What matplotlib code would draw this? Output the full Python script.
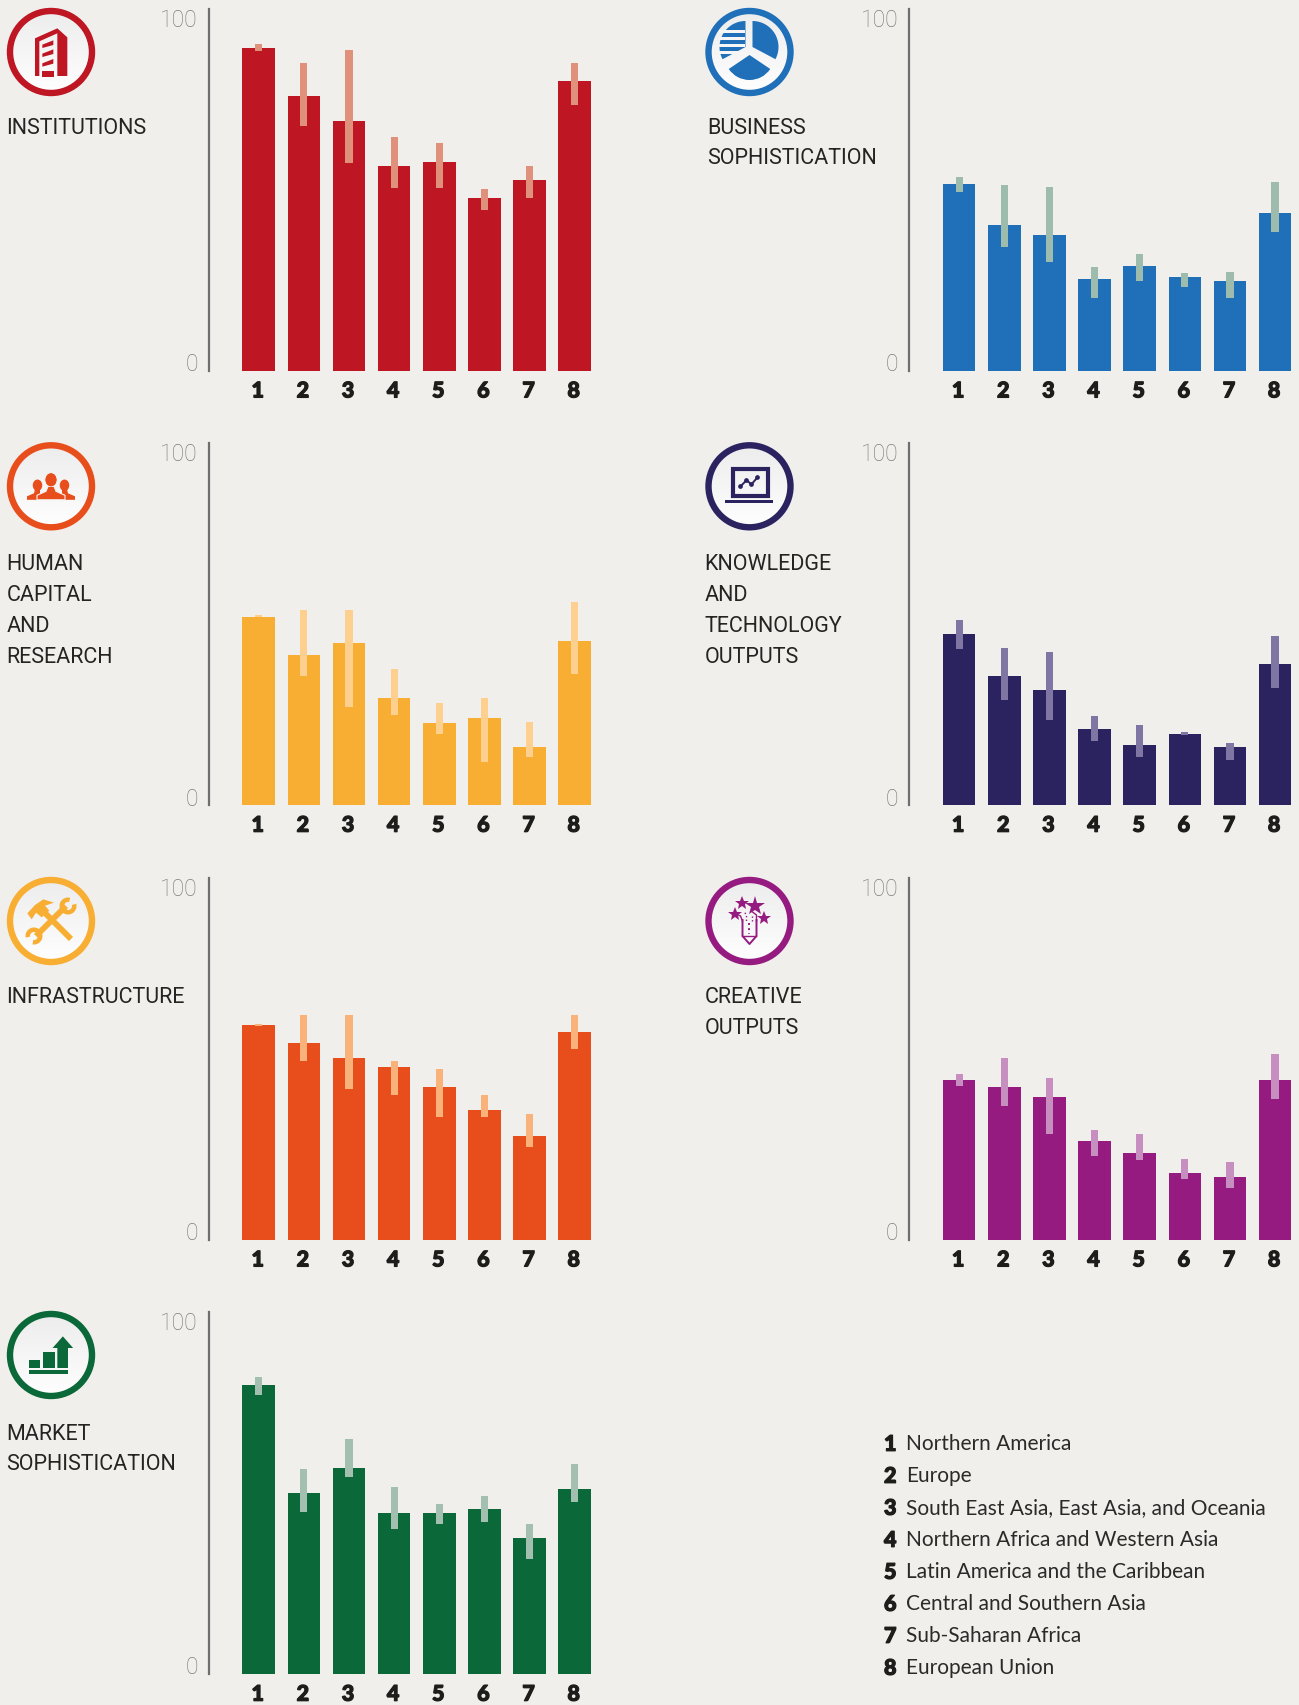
import numpy as np
import matplotlib
matplotlib.use("Agg")
import matplotlib.pyplot as plt
import matplotlib.patheffects as pe
from matplotlib.colors import LinearSegmentedColormap
from matplotlib.patches import Circle, Ellipse, Polygon, Rectangle, Wedge
from matplotlib.transforms import ScaledTranslation

regions = ["Northern America", "Europe", "South East Asia, East Asia, and Oceania",
           "Northern Africa and Western Asia", "Latin America and the Caribbean",
           "Central and Southern Asia", "Sub-Saharan Africa", "European Union"]
groups = [1, 2, 3, 4, 5, 6, 7, 8]

institutions = [89.1, 75.9, 69.0, 56.6, 57.6, 47.8, 52.8, 79.9]
institutions_hi = [90.2, 85.1, 88.5, 64.6, 62.9, 50.3, 56.5, 85.1]
institutions_lo = [88.2, 67.5, 57.4, 50.5, 50.6, 44.5, 47.8, 73.5]

business = [51.5, 40.2, 37.6, 25.4, 29.0, 25.9, 24.9, 43.5]
business_hi = [53.5, 51.4, 50.8, 28.7, 32.2, 26.9, 27.4, 52.2]
business_lo = [49.4, 34.2, 29.9, 20.2, 24.9, 23.0, 20.2, 38.3]

human = [52.0, 41.3, 44.7, 29.5, 22.6, 24.0, 15.9, 45.3]
human_hi = [52.4, 54.0, 54.0, 37.6, 28.2, 29.6, 22.8, 56.0]
human_lo = [51.9, 35.6, 27.0, 24.8, 19.5, 11.9, 13.2, 36.2]

knowledge = [47.1, 35.5, 31.7, 20.9, 16.6, 19.7, 15.9, 39.0]
knowledge_hi = [51.2, 43.3, 42.2, 24.7, 22.1, 20.1, 17.2, 46.7]
knowledge_lo = [43.0, 28.9, 23.5, 17.7, 13.3, 19.3, 12.3, 32.4]

infrastructure = [59.2, 54.2, 50.2, 47.8, 42.3, 35.7, 28.7, 57.4]
infrastructure_hi = [59.5, 62.0, 62.0, 49.4, 47.2, 40.0, 34.7, 62.2]
infrastructure_lo = [59.1, 49.4, 41.5, 40.0, 33.8, 33.8, 25.7, 52.8]

creative = [44.1, 42.3, 39.3, 27.2, 24.0, 18.5, 17.3, 44.0]
creative_hi = [45.9, 50.2, 44.7, 30.2, 29.3, 22.4, 21.4, 51.4]
creative_lo = [42.5, 36.9, 29.3, 23.1, 22.0, 16.8, 14.3, 38.9]

market = [79.7, 50.0, 56.8, 44.4, 44.4, 45.6, 37.7, 51.0]
market_hi = [82.1, 56.6, 65.0, 51.6, 47.0, 49.2, 41.3, 57.9]
market_lo = [77.2, 44.7, 54.3, 40.1, 41.5, 42.0, 31.7, 47.4]

W, H = 1299, 1705
BG = "#f1efec"
TXT = "#252423"
FONT = "Lato"
TITLE_FONT = "Roboto"
heavy = [pe.withStroke(linewidth=0.9, foreground="#1d1d1b")]

fig = plt.figure(figsize=(W / 100, H / 100), dpi=100, facecolor=BG)
page = fig.add_axes([0, 0, 1, 1])
page.set_xlim(0, W)
page.set_ylim(H, 0)
page.axis("off")
fade = LinearSegmentedColormap.from_list("fade", ["#ececed", "#ffffff"])


def add_chart(x0, y0, vals, hi, lo, color, light):
    # x0 = axis line pixel, y0 = pixel of value 0
    ax = fig.add_axes([x0 / W, 1 - y0 / H, 388 / W, 362 / H], facecolor="none")
    xs = np.array(groups)
    ax.set_xlim(1 - 49.7 / 45.1, 1 + 338 / 45.1)
    ax.set_ylim(0, 100)
    ax.bar(xs, vals, width=0.72, color=color)
    ax.bar(xs, np.array(hi) - np.array(lo), bottom=lo, width=0.16, color=light)
    for s in ["top", "right", "bottom"]:
        ax.spines[s].set_visible(False)
    ax.spines["left"].set_color("#6f6f6e")
    ax.spines["left"].set_linewidth(1.6)
    ax.set_yticks([])
    ax.set_xticks(xs)
    ax.set_xticklabels(groups, fontfamily=FONT, fontweight="black", fontsize=15.5, color="#1d1d1b")
    ax.tick_params(axis="x", length=0, pad=7)
    shift = ScaledTranslation(-1 / 100, 0, fig.dpi_scale_trans)
    for lab in ax.get_xticklabels():
        lab.set_transform(lab.get_transform() + shift)
        lab.set_path_effects(heavy)
    for v, off, va in [(100, 0, "top"), (0, -5.5, "bottom")]:
        ax.annotate(str(v), (0, v), xycoords=ax.get_yaxis_transform(), xytext=(-11, off),
                    textcoords="offset pixels", ha="right", va=va, fontfamily="Roboto",
                    fontweight="light", fontsize=16.5, color="#7d7d7d")
    return ax


def ring(cx, cy, color):
    grad = np.linspace(0, 1, 64).reshape(-1, 1)
    im = page.imshow(grad, extent=(cx - 44, cx + 44, cy + 44, cy - 44), cmap=fade,
                     aspect="auto", zorder=1)
    im.set_clip_path(Circle((cx, cy), 41, transform=page.transData))
    page.add_patch(Circle((cx, cy), 41, fill=False, ec=color, lw=4.6, zorder=2))
    page.set_xlim(0, W)
    page.set_ylim(H, 0)


def poly(cx, cy, pts, color, cen=(153, 156), sx=3.0, sy=3.0, ec="none", z=3):
    p = [(cx + (a - cen[0]) / sx, cy + (b - cen[1]) / sy) for a, b in pts]
    page.add_patch(Polygon(p, closed=True, fc=color, ec=ec, lw=0.8, zorder=z))


def icon_institutions(cx, cy, c):
    poly(cx, cy, [(105, 115), (172, 85), (202, 112), (202, 228), (172, 228), (172, 100), (118, 124), (118, 228), (105, 228)], c)
    for top in [128, 155, 184]:
        poly(cx, cy, [(127, top + 6), (160, top - 7), (160, top + 7), (127, top + 16)], c)
    poly(cx, cy, [(126, 213), (162, 213), (162, 231), (126, 231)], c)


def icon_business(cx, cy, c):
    # y axis runs down here, so wedge angles go clockwise on screen
    page.add_patch(Wedge((cx + 3, cy - 5), 26, -90, 28, fc=c, ec="none", zorder=3))
    page.add_patch(Wedge((cx, cy + 3), 25, 34, 146, fc=c, ec="none", zorder=3))
    page.add_patch(Wedge((cx - 4, cy - 5), 26, 152, 270, fc=c, ec="none", zorder=3))
    for y in [-22.5, -15.5, -8, -1]:
        page.add_patch(Rectangle((cx - 30, cy + y), 26, 3, fc="#f6f6f7", ec="none", zorder=4))


def icon_human(cx, cy, c):
    for s in [-1, 1]:
        page.add_patch(Ellipse((cx + s * 13.5, cy - 1), 9.5, 11.5, fc=c, ec="none", zorder=3))
        poly(cx, cy, [(s * 24, 13.5), (s * 24, 10), (s * 17, 7), (s * 16, 3), (s * 11, 3), (s * 11, 13.5)],
             c, cen=(0, 0), sx=1, sy=1)
    page.add_patch(Ellipse((cx, cy - 6.5), 12, 14, fc=c, ec="#f4f4f5", lw=0.8, zorder=4))
    poly(cx, cy, [(-14, 13.5), (-14, 9), (-5, 5), (-3, 0), (3, 0), (5, 5), (14, 9), (14, 13.5)],
         c, cen=(0, 0), sx=1, sy=1, ec="#f4f4f5", z=4)
    page.add_patch(Ellipse((cx, cy - 6.5), 11, 13, fc=c, ec="none", zorder=5))


def icon_knowledge(cx, cy, c):
    page.add_patch(Rectangle((cx - 16.5, cy - 17.5), 35, 27, fc="none", ec=c, lw=3, zorder=3))
    px = np.array([-9, -3, 2, 8]) + cx
    py = np.array([0, -6, -2, -9]) + cy
    page.plot(px, py, color=c, lw=1.4, marker="o", ms=2.4, zorder=3)
    page.add_patch(Rectangle((cx - 24, cy + 14), 48, 3, fc=c, ec="none", zorder=3))


def icon_infrastructure(cx, cy, c):
    # hammer
    page.plot([cx - 12, cx + 20], [cy - 14, cy + 18], color=c, lw=4.2, solid_capstyle="butt", zorder=3)
    poly(cx, cy, [(82, 160), (105, 135), (130, 118), (162, 128), (135, 137), (148, 152), (125, 172), (108, 158), (95, 178)],
         c, cen=(153, 183))
    # wrench
    page.plot([cx - 15, cx + 15], [cy + 15, cy - 15], color=c, lw=4.2, solid_capstyle="butt", zorder=3)
    page.add_patch(Wedge((cx + 17, cy - 15), 8.5, -15, 285, width=4.5, fc=c, ec="none", zorder=3))
    page.add_patch(Wedge((cx - 17, cy + 15), 8.5, 170, 460, width=4.5, fc=c, ec="none", zorder=3))


def icon_creative(cx, cy, c):
    for dx, dy, ms in [(-7, -18, 10), (6, -15, 15), (-14, -7, 10), (15, -3, 10)]:
        page.plot([cx + dx], [cy + dy], marker="*", color=c, ms=ms, mew=0, zorder=3)
    page.plot([cx - 7, cx - 7, cx, cx + 7, cx + 7], [cy - 1, cy + 15, cy + 23, cy + 15, cy - 1], color=c, lw=1.4, zorder=3)
    page.plot([cx - 7, cx + 7], [cy + 15, cy + 15], color=c, lw=1, zorder=3)
    page.plot([cx, cx], [cy + 2, cy + 13], color=c, lw=1.4, ls=":", zorder=3)
    page.plot([cx - 7, cx - 9, cx - 13], [cy, cy - 5, cy - 7], color=c, lw=1, zorder=3)
    page.plot([cx + 7, cx + 7, cx + 3], [cy, cy - 6, cy - 9], color=c, lw=1, zorder=3)
    page.plot([cx - 3, cx - 3, cx - 6], [cy, cy - 6, cy - 10], color=c, lw=1, ls=":", zorder=3)
    page.plot([cx + 3, cx + 3], [cy, cy - 6], color=c, lw=1, ls=":", zorder=3)


def icon_market(cx, cy, c):
    for a, b, t in [(73, 102, 225), (109, 138, 201)]:
        poly(cx, cy, [(a, t), (b, t), (b, 250), (a, 250)], c, cen=(129, 211), sx=2.53)
    poly(cx, cy, [(145, 250), (145, 190), (133, 190), (159, 155), (185, 190), (172, 190), (172, 250)], c, cen=(129, 211), sx=2.53)
    poly(cx, cy, [(73, 255), (172, 255), (172, 269), (73, 269)], c, cen=(129, 211), sx=2.53)


panels = [
    (209, 370.7, institutions, institutions_hi, institutions_lo, "#be1622", "#e0917c", "#be1622",
     51, 52, icon_institutions, 6.5, 126, ["INSTITUTIONS"]),
    (909.4, 370.7, business, business_hi, business_lo, "#1f70b8", "#9dbcae", "#1f70b8",
     749.5, 52, icon_business, 707, 126, ["BUSINESS", "SOPHISTICATION"]),
    (209, 805, human, human_hi, human_lo, "#f8ae33", "#fdd08f", "#e84e1b",
     51, 486.3, icon_human, 6.5, 563, ["HUMAN", "CAPITAL", "AND", "RESEARCH"]),
    (909.4, 805, knowledge, knowledge_hi, knowledge_lo, "#2a2360", "#7f76a3", "#2a2360",
     749.5, 486.3, icon_knowledge, 704.5, 563, ["KNOWLEDGE", "AND", "TECHNOLOGY", "OUTPUTS"]),
    (209, 1239.7, infrastructure, infrastructure_hi, infrastructure_lo, "#e84e1b", "#f9b27a", "#f8ae33",
     51, 921, icon_infrastructure, 6.5, 995.7, ["INFRASTRUCTURE"]),
    (909.4, 1239.7, creative, creative_hi, creative_lo, "#951b81", "#c78fbf", "#951b81",
     749.5, 921, icon_creative, 704.5, 995.7, ["CREATIVE", "OUTPUTS"]),
    (209, 1674, market, market_hi, market_lo, "#0b6838", "#a3bfb0", "#0b6838",
     51, 1355, icon_market, 6.5, 1432, ["MARKET", "SOPHISTICATION"]),
]

for x0, y0, vals, hi, lo, color, light, ring_color, cx, cy, icon, tx, ty, title in panels:
    add_chart(x0, y0, vals, hi, lo, color, light)
    ring(cx, cy, ring_color)
    icon(cx, cy, ring_color)
    for i, line in enumerate(title):
        page.text(tx, ty + 2 + i * 30.7, line, ha="left", va="center", fontfamily=TITLE_FONT,
                  fontsize=15.5, color=TXT)

# legend
for i, (g, name) in enumerate(zip(groups, regions)):
    y = 1444.3 + i * 32
    page.text(884, y, str(g), ha="left", va="center", fontfamily=FONT, fontweight="black",
              fontsize=15.5, color="#1d1d1b", path_effects=heavy)
    page.text(906, y, name, ha="left", va="center", fontfamily=FONT, fontsize=15, color="#2b2a29")

fig.savefig("out.png", dpi=100, facecolor=BG)
